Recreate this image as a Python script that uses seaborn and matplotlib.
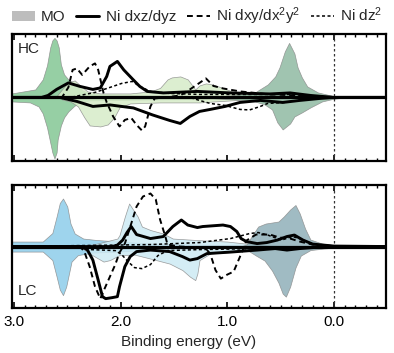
import matplotlib
matplotlib.use("Agg")
import matplotlib.pyplot as plt
import seaborn as sns
from matplotlib.patches import Patch
from matplotlib.lines import Line2D
from matplotlib.ticker import MultipleLocator

# ---- HC panel: MO projected DOS (spin up > 0, spin down < 0) ----
hc_mo1_up_e = [3.02, 2.80, 2.73, 2.69, 2.66, 2.64, 2.62, 2.60, 2.58, 2.56, 2.53, 2.49, 2.46, 2.41, 2.36, 2.29, 2.19, 1.72, 0.79, 0.00]
hc_mo1_up = [4, 8, 18, 32, 50, 57, 59.5, 57, 50, 33, 23, 18, 16, 12, 7, 4, 3, 2, 1.5, 0]
hc_mo1_dn_e = [3.02, 2.85, 2.77, 2.73, 2.69, 2.66, 2.64, 2.62, 2.60, 2.59, 2.56, 2.53, 2.49, 2.44, 2.38, 2.29, 1.72, 0.79, 0.00]
hc_mo1_dn = [-4, -5, -9, -16, -30, -45, -55, -61, -55, -42, -28, -20, -14, -9, -4, -3, -2, -1.5, 0]

hc_mo2_up_e = [2.61, 2.55, 2.49, 2.43, 2.38, 2.31, 2.19, 1.91, 1.72, 1.63, 1.56, 1.52, 1.44, 1.37, 1.30, 1.26, 1.20, 1.14, 1.04, 0.93, 0.79, 0.60, 0.32]
hc_mo2_up = [0, 8, 15, 17, 12, 6, 4, 4, 6, 9.5, 18, 20, 21, 18, 8, 12, 14, 13, 9.5, 5, 3, 1, 0]
hc_mo2_dn_e = [2.55, 2.47, 2.40, 2.34, 2.29, 2.19, 2.12, 2.06, 2.01, 1.91, 1.63, 1.26, 0.97, 0.69, 0.41]
hc_mo2_dn = [-2, -4, -9, -20, -28, -29, -27, -20, -10, -6, -5, -5, -3, -1, 0]

hc_mo3_up_e = [1.26, 0.97, 0.74, 0.62, 0.55, 0.51, 0.46, 0.42, 0.37, 0.34, 0.30, 0.25, 0.15, 0.01, -0.10]
hc_mo3_up = [0, 2, 5, 13, 21, 30, 46, 54.5, 44, 30, 20, 11, 5, 1.5, 0]
hc_mo3_dn_e = [1.26, 0.93, 0.74, 0.65, 0.58, 0.53, 0.48, 0.41, 0.37, 0.30, 0.22, 0.11, 0.01, -0.10]
hc_mo3_dn = [0, -2, -4, -7, -12, -25, -32, -26, -19, -15, -10, -4, -1.5, 0]

# ---- HC panel: Ni d orbitals ----
hc_dxz_up_e = [3.02, 2.74, 2.68, 2.60, 2.49, 2.38, 2.26, 2.19, 2.13, 2.10, 2.03, 1.97, 1.88, 1.82, 1.75, 1.60, 1.28, 0.97, 0.60, 0.41, 0.22, 0.00, -0.51]
hc_dxz_up = [0, 0, 2, 8, 14.5, 11, 8, 9.5, 21, 31, 36, 27.5, 17.5, 11, 6, 4.5, 6, 4.5, 3.5, 4.5, 2, 0, 0]
hc_dxz_dn_e = [3.02, 2.57, 2.41, 2.26, 2.10, 1.88, 1.70, 1.54, 1.44, 1.35, 1.26, 1.16, 1.02, 0.88, 0.69, 0.48, 0.32, 0.13, 0.00, -0.51]
hc_dxz_dn = [0, 0, -4, -9, -7.5, -10.5, -17.5, -23, -26, -19, -14, -12, -9, -5, -3, -5, -3, -1, 0, 0]

hc_dxy_e = [3.02, 2.55, 2.49, 2.45, 2.41, 2.36, 2.29, 2.24, 2.21, 2.16, 2.13, 2.07, 2.01, 1.96, 1.90, 1.85, 1.80, 1.77, 1.72, 1.68, 1.58, 1.44, 1.35, 1.26, 1.20, 1.13, 1.04, 0.88, 0.60, 0.32, 0.00]
hc_dxy = [0, 0, 10, 27.5, 29, 22.5, 31, 34, 27.5, 4.5, -5, -19, -29, -22.5, -20.5, -27.5, -33, -29, -9, -1, 0, 2, 8, 14.5, 19, 11.5, 9, 6, 3, 2, 0]

hc_dz2_up_e = [3.02, 2.47, 2.38, 2.24, 2.10, 1.99, 1.89, 1.82, 1.72, 1.54, 1.26, 0.79, 0.41, 0.00]
hc_dz2_up = [0, 0, 2, 5, 10, 14, 16, 11, 6, 4, 3, 3, 3, 0]
hc_dz2_dn_e = [3.02, 1.35, 1.26, 1.16, 1.02, 0.88, 0.79, 0.69, 0.62, 0.46, 0.27, 0.00]
hc_dz2_dn = [0, 0, -3, -6, -8, -12, -12.5, -9, -6, -5, -2, 0]

# ---- LC panel: MO projected DOS ----
lc_mo1_up_e = [3.02, 2.73, 2.64, 2.60, 2.57, 2.54, 2.50, 2.47, 2.43, 2.35, 2.22, 2.01, 1.72, 1.26, 0.00]
lc_mo1_up = [5, 5, 13.5, 30, 43.5, 48, 40, 23, 13, 8, 6.5, 5, 3, 2, 0]
lc_mo1_dn_e = [3.02, 2.73, 2.64, 2.60, 2.57, 2.54, 2.51, 2.49, 2.46, 2.40, 2.26, 2.01, 1.72, 1.26, 0.00]
lc_mo1_dn = [-5, -5, -13.5, -30, -43, -48.5, -40, -30, -15, -8.5, -6, -5, -3, -2, 0]

lc_mo2_up_e = [2.38, 2.22, 2.03, 2.01, 1.96, 1.92, 1.89, 1.84, 1.80, 1.72, 1.60, 1.51, 1.28, 1.00, 0.74, 0.51]
lc_mo2_up = [0, 3, 8, 11.5, 30, 43, 38, 30, 20, 16.5, 13, 8, 6.5, 5, 2, 0]
lc_mo2_dn_e = [2.38, 2.29, 2.16, 2.10, 2.01, 1.87, 1.72, 1.54, 1.42, 1.35, 1.30, 1.28, 1.26, 1.16, 0.97, 0.69, 0.41]
lc_mo2_dn = [0, -7, -15, -13.5, -8.5, -8, -12, -17, -23.5, -30, -33.5, -27, -13.5, -7, -5.5, -3, 0]

lc_mo3_up_e = [0.88, 0.82, 0.76, 0.71, 0.64, 0.52, 0.47, 0.41, 0.36, 0.32, 0.27, 0.22, 0.11, -0.01, -0.10]
lc_mo3_up = [0, 2, 12, 20, 23, 25, 30, 37, 41.5, 33, 18, 7, 3, 1, 0]
lc_mo3_dn_e = [0.88, 0.82, 0.73, 0.65, 0.58, 0.52, 0.48, 0.45, 0.41, 0.36, 0.31, 0.22, 0.10, -0.01, -0.10]
lc_mo3_dn = [0, -3, -9, -14, -24, -36, -47, -50, -40, -21, -9, -3.5, -2, -1, 0]

# ---- LC panel: Ni d orbitals ----
lc_dxz_up_e = [3.02, 2.08, 2.03, 1.98, 1.94, 1.90, 1.85, 1.72, 1.60, 1.51, 1.43, 1.37, 1.28, 1.23, 1.04, 0.97, 0.91, 0.87, 0.82, 0.72, 0.63, 0.53, 0.44, 0.37, 0.29, 0.20, 0.00, -0.51]
lc_dxz_up = [0, 0, 1.5, 6.5, 14, 20, 12, 8, 10, 20, 26.5, 21.5, 19, 20, 21.5, 20, 15, 8, 5, 3, 4, 6.5, 10, 11.5, 6.5, 2.5, 0.5, 0]
lc_dxz_dn_e = [3.02, 2.36, 2.31, 2.26, 2.21, 2.17, 2.14, 2.08, 2.03, 2.01, 1.96, 1.91, 1.85, 1.72, 1.54, 1.42, 1.35, 1.28, 1.19, 0.97, 0.72, 0.55, 0.44, 0.32, 0.13, 0.00, -0.51]
lc_dxz_dn = [0, 0, -3.5, -13.5, -33.5, -50, -52, -51, -50, -40, -20, -10, -5, -3.5, -5, -10, -13.5, -12, -7, -5.5, -3.5, -2, -3.5, -2, -0.5, 0, 0]

lc_dxy_e = [3.02, 2.38, 2.34, 2.29, 2.24, 2.19, 2.15, 2.10, 2.05, 2.01, 1.96, 1.90, 1.85, 1.79, 1.72, 1.67, 1.63, 1.58, 1.56, 1.44, 1.21, 1.16, 1.11, 1.06, 1.00, 0.94, 0.88, 0.82, 0.73, 0.60, 0.51, 0.41, 0.32, 0.20, 0.00]
lc_dxy = [0, 0, -5, -20, -40, -52, -42, -30, -18, -6, 3, 23, 40, 50, 53, 47, 27, 10, 2, 0, -1, -7, -23.5, -32, -28, -25, -10, 6, 12, 12, 9, 8, 5, 2, 0.5]

lc_dz2_up_e = [3.02, 1.72, 1.26, 0.97, 0.79, 0.71, 0.62, 0.49, 0.39, 0.32, 0.18, 0.00]
lc_dz2_up = [0, 2, 4, 8, 13, 14, 11.5, 6.5, 10, 8, 2, 0.5]
lc_dz2_dn_e = [3.02, 2.38, 2.29, 2.05, 1.99, 1.93, 1.87, 1.80, 1.72, 1.65, 1.56, 1.26, 0.69, 0.00]
lc_dz2_dn = [0, 0, -3, -4, -8, -15, -21, -22, -18, -9, -4, -3, -2, 0]

tick_vals = [3.0, 2.0, 1.0, 0.0]
tick_labels = ["3.0", "2.0", "1.0", "0.0"]

hc_colors = ["#84c794", "#d6ecc8", "#8fbaa2"]
lc_colors = ["#8dcdea", "#cdeaf4", "#8fb0b9"]

sns.set_theme(style="white")
plt.rcParams["font.family"] = ["Liberation Sans", "DejaVu Sans"]
plt.rcParams["mathtext.fontset"] = "custom"
plt.rcParams["mathtext.rm"] = "Liberation Sans"
plt.rcParams["mathtext.it"] = "Liberation Sans"

fig = plt.figure(figsize=(3.94, 3.53), dpi=100)
ax_hc = fig.add_axes([0.030, 0.544, 0.950, 0.360])
ax_lc = fig.add_axes([0.030, 0.127, 0.950, 0.349])

dash_long = (0, (3, 2))
dash_short = (0, (2, 1.6))


def draw_panel(ax, mos, colors, dxz, dxy, dz2, ylim, label, label_y, label_va):
    for (eu, vu, ed, vd), c in zip(mos, colors):
        ax.fill_between(eu, 0, vu, color=c, alpha=0.85, edgecolor="#8a8a8a", linewidth=0.5)
        ax.fill_between(ed, 0, vd, color=c, alpha=0.85, edgecolor="#8a8a8a", linewidth=0.5)
    ax.axhline(0, color="black", lw=2.3, zorder=3)
    for e, v in dz2:
        sns.lineplot(x=e, y=v, ax=ax, color="black", lw=1.1, linestyle=dash_short, zorder=4)
    sns.lineplot(x=dxy[0], y=dxy[1], ax=ax, color="black", lw=1.4, linestyle=dash_long, zorder=4)
    for e, v in dxz:
        sns.lineplot(x=e, y=v, ax=ax, color="black", lw=2.1, zorder=5,
                     solid_joinstyle="round", solid_capstyle="round")
    ax.axvline(0, color="#333333", lw=0.9, linestyle=(0, (2, 2)), zorder=2)
    ax.set_xlim(3.02, -0.49)
    ax.set_ylim(*ylim)
    ax.set_yticks([])
    ax.set_ylabel("")
    ax.set_xticks(tick_vals)
    ax.xaxis.set_minor_locator(MultipleLocator(0.1))
    ax.tick_params(axis="x", which="both", direction="in", top=True, bottom=True, colors="black")
    ax.tick_params(axis="x", which="major", length=4, width=1.2, labelsize=11, pad=5)
    ax.tick_params(axis="x", which="minor", length=2.5, width=1.0)
    for s in ax.spines.values():
        s.set_color("black")
        s.set_linewidth(1.6)
    ax.text(0.016, label_y, label, transform=ax.transAxes, fontsize=11, va=label_va, ha="left")


draw_panel(ax_hc,
           [(hc_mo1_up_e, hc_mo1_up, hc_mo1_dn_e, hc_mo1_dn),
            (hc_mo2_up_e, hc_mo2_up, hc_mo2_dn_e, hc_mo2_dn),
            (hc_mo3_up_e, hc_mo3_up, hc_mo3_dn_e, hc_mo3_dn)],
           hc_colors,
           [(hc_dxz_up_e, hc_dxz_up), (hc_dxz_dn_e, hc_dxz_dn)],
           (hc_dxy_e, hc_dxy),
           [(hc_dz2_up_e, hc_dz2_up), (hc_dz2_dn_e, hc_dz2_dn)],
           (-63.5, 63.5), "HC", 0.94, "top")
ax_hc.tick_params(axis="x", labelbottom=False)
ax_hc.set_xlabel("")

draw_panel(ax_lc,
           [(lc_mo1_up_e, lc_mo1_up, lc_mo1_dn_e, lc_mo1_dn),
            (lc_mo2_up_e, lc_mo2_up, lc_mo2_dn_e, lc_mo2_dn),
            (lc_mo3_up_e, lc_mo3_up, lc_mo3_dn_e, lc_mo3_dn)],
           lc_colors,
           [(lc_dxz_up_e, lc_dxz_up), (lc_dxz_dn_e, lc_dxz_dn)],
           (lc_dxy_e, lc_dxy),
           [(lc_dz2_up_e, lc_dz2_up), (lc_dz2_dn_e, lc_dz2_dn)],
           (-61.5, 61.5), "LC", 0.08, "bottom")
ax_lc.set_xticklabels(tick_labels)
ax_lc.set_xlabel("Binding energy (eV)", fontsize=11)
ax_lc.xaxis.set_label_coords(0.473, -0.22)

handles = [Patch(facecolor="#bdbdbd", edgecolor="none"),
           Line2D([], [], color="black", lw=2.1),
           Line2D([], [], color="black", lw=1.4, linestyle=dash_long),
           Line2D([], [], color="black", lw=1.1, linestyle=dash_short)]
labels = ["MO", "Ni dxz/dyz", "Ni dxy/dx$^2$y$^2$", "Ni dz$^2$"]
fig.legend(handles, labels, loc="upper center", bbox_to_anchor=(0.5, 1.01), ncol=4,
           frameon=False, fontsize=11, handlelength=1.5, handletextpad=0.4,
           columnspacing=0.7, borderaxespad=0.2)

fig.savefig("out.png", dpi=100)
